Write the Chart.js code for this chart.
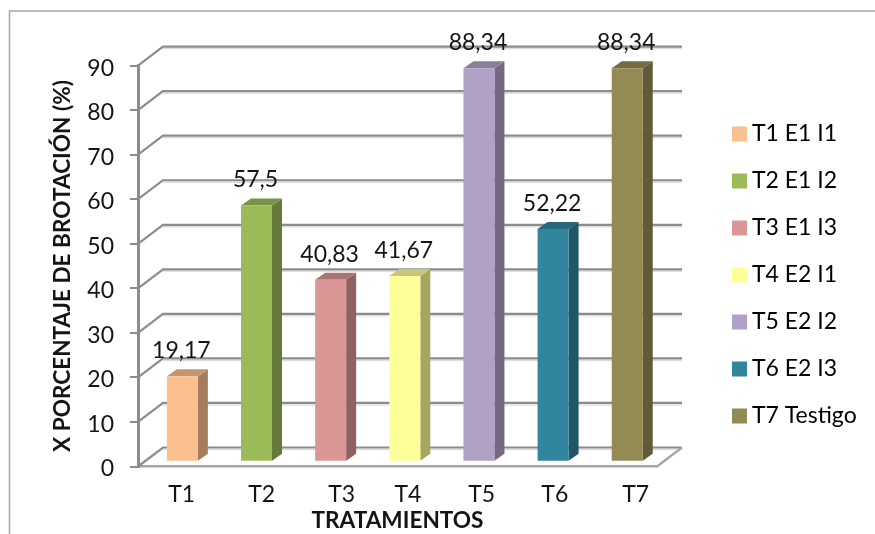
<!DOCTYPE html>
<html>
<head>
<meta charset="utf-8">
<title>Porcentaje de brotación</title>
<script src="https://cdn.jsdelivr.net/npm/chart.js@4"></script>
<style>
  html, body { margin: 0; background: #fff; }
  canvas { display: block; }
</style>
</head>
<body>
<canvas id="myChart" width="875" height="534"></canvas>
<script>
const categories = ['T1', 'T2', 'T3', 'T4', 'T5', 'T6', 'T7'];
const legendNames = ['T1 E1 I1', 'T2 E1 I2', 'T3 E1 I3', 'T4 E2 I1', 'T5 E2 I2', 'T6 E2 I3', 'T7 Testigo'];
const brotacion = [19.17, 57.5, 40.83, 41.67, 88.34, 52.22, 88.34];
const yTicks = [0, 10, 20, 30, 40, 50, 60, 70, 80, 90];
const barColors = ['#FAC08F', '#9BBB59', '#D99694', '#FFFF99', '#B2A1C7', '#31859C', '#948A54'];

// fake 3D: how far the back wall and the bars sit from the front plane
const wall = { dx: 25, dy: -19 };
const barPlane = { dx: 7.3, dy: -4.8 };
const barDepth = { dx: 10, dy: -7 };
// tick labels are not quite centred under their bars
const tickNudge = [6.6, 12.5, 18.3, 10.5, 10, 9, 15.8];

const FONT = 'Lato, sans-serif';
const GRID = '#8c8c8c';
const TEXT = '#141414';

function shade(hex, k) {
  const n = parseInt(hex.slice(1), 16);
  const c = [n >> 16, (n >> 8) & 255, n & 255].map(v => Math.round(v * k));
  return 'rgb(' + c.join(',') + ')';
}

function poly(ctx, pts, fill) {
  ctx.fillStyle = fill;
  ctx.beginPath();
  pts.forEach((p, i) => i ? ctx.lineTo(p[0], p[1]) : ctx.moveTo(p[0], p[1]));
  ctx.closePath();
  ctx.fill();
}

const frame3d = {
  id: 'frame3d',
  afterLayout(chart) {
    chart.scales.x.getLabelItems().forEach((item, i) => {
      item.options.translation[0] += tickNudge[i];
    });
    chart.scales.y.getLabelItems().forEach(item => {
      item.options.translation[1] += 2.5;
    });
    // legend sits beside the plot, not inside it
    chart.legend.left = 714.5;
    chart.legend.right = 875;
    chart.legend.top = 98.5;
    chart.legend.bottom = 534;
  },
  beforeDraw(chart) {
    const ctx = chart.ctx;
    ctx.save();
    ctx.strokeStyle = '#a6a6a6';
    ctx.lineWidth = 1.5;
    ctx.beginPath();
    ctx.moveTo(9.5, 534);
    ctx.lineTo(9.5, 11);
    ctx.lineTo(875, 11);
    ctx.stroke();
    ctx.restore();
  },
  beforeDatasetsDraw(chart) {
    const ctx = chart.ctx;
    const { left, right, bottom } = chart.chartArea;
    const y = chart.scales.y;
    ctx.save();
    yTicks.forEach(t => {
      const py = y.getPixelForValue(t);
      // pale line under each gridline
      ctx.strokeStyle = '#dedede';
      ctx.lineWidth = 1.5;
      ctx.beginPath();
      ctx.moveTo(left + wall.dx, py + wall.dy + 2);
      ctx.lineTo(right + wall.dx, py + wall.dy + 2);
      ctx.stroke();
      ctx.strokeStyle = GRID;
      ctx.lineWidth = 2.2;
      ctx.beginPath();
      ctx.moveTo(left, py);
      ctx.lineTo(left + wall.dx, py + wall.dy);
      ctx.lineTo(right + wall.dx, py + wall.dy);
      ctx.stroke();
    });
    // right edge of the floor
    ctx.strokeStyle = '#a6a6a6';
    ctx.beginPath();
    ctx.moveTo(right, bottom);
    ctx.lineTo(right + wall.dx, bottom + wall.dy);
    ctx.stroke();
    ctx.restore();
  },
  beforeDatasetDraw(chart, args) {
    const ctx = chart.ctx;
    ctx.save();
    ctx.translate(barPlane.dx, barPlane.dy);
    args.meta.data.forEach((bar, i) => {
      const x0 = bar.x - bar.width / 2;
      const x1 = bar.x + bar.width / 2;
      const d = barDepth;
      poly(ctx, [[x1, bar.y], [x1 + d.dx, bar.y + d.dy], [x1 + d.dx, bar.base + d.dy], [x1, bar.base]], shade(barColors[i], 0.65));
      poly(ctx, [[x0, bar.y], [x0 + d.dx, bar.y + d.dy], [x1 + d.dx, bar.y + d.dy], [x1, bar.y]], shade(barColors[i], 0.78));
    });
  },
  afterDatasetDraw(chart) {
    chart.ctx.restore();
  },
  afterDatasetsDraw(chart) {
    const ctx = chart.ctx;
    const meta = chart.getDatasetMeta(0);
    ctx.save();
    ctx.font = '23px ' + FONT;
    ctx.fillStyle = TEXT;
    ctx.textAlign = 'center';
    ctx.textBaseline = 'middle';
    meta.data.forEach((bar, i) => {
      const label = String(brotacion[i]).replace('.', ',');
      ctx.fillText(label, bar.x + barPlane.dx - 1, bar.y + barPlane.dy - 25.5);
    });
    ctx.restore();
  }
};

new Chart(document.getElementById('myChart'), {
  type: 'bar',
  plugins: [frame3d],
  data: {
    labels: categories,
    datasets: [{
      data: brotacion,
      backgroundColor: barColors,
      barPercentage: 1,
      categoryPercentage: 0.418,
      clip: false
    }]
  },
  options: {
    responsive: false,
    animation: false,
    layout: { padding: { left: 0, top: 65.6, right: 218, bottom: 0 } },
    scales: {
      x: {
        afterFit(scale) { scale.height = 67.5; },
        grid: { display: false },
        border: { color: '#a6a6a6', width: 2.5 },
        ticks: { color: TEXT, font: { family: FONT, size: 23 }, padding: 6, maxRotation: 0 },
        title: {
          display: true,
          text: 'TRATAMIENTOS',
          color: TEXT,
          font: { family: FONT, size: 22.6, weight: 'bold' },
          padding: { top: 0, bottom: 0 }
        }
      },
      y: {
        min: 0,
        max: 90,
        afterFit(scale) { scale.width = 138; },
        afterBuildTicks(scale) { scale.ticks = yTicks.map(value => ({ value })); },
        grid: { drawOnChartArea: false, color: GRID, lineWidth: 2, tickLength: 8 },
        border: { color: GRID, width: 3 },
        ticks: { color: TEXT, font: { family: FONT, size: 23 }, padding: 16 },
        title: {
          display: true,
          text: 'X PORCENTAJE DE BROTACIÓN (%)',
          color: TEXT,
          font: { family: FONT, size: 22.6, weight: 'bold' },
          padding: { top: 49, bottom: 0 }
        }
      }
    },
    plugins: {
      tooltip: { enabled: false },
      legend: {
        position: 'chartArea',
        align: 'start',
        labels: {
          // tiny box with a thick stroke: a 15px swatch with the text set close to it
          boxWidth: 2,
          boxHeight: 2,
          padding: 24,
          color: TEXT,
          font: { family: FONT, size: 23 },
          generateLabels() {
            return legendNames.map((text, i) => ({
              text,
              fillStyle: barColors[i],
              strokeStyle: barColors[i],
              lineWidth: 13,
              lineJoin: 'miter',
              hidden: false,
              index: i
            }));
          }
        }
      }
    }
  }
});
</script>
</body>
</html>
